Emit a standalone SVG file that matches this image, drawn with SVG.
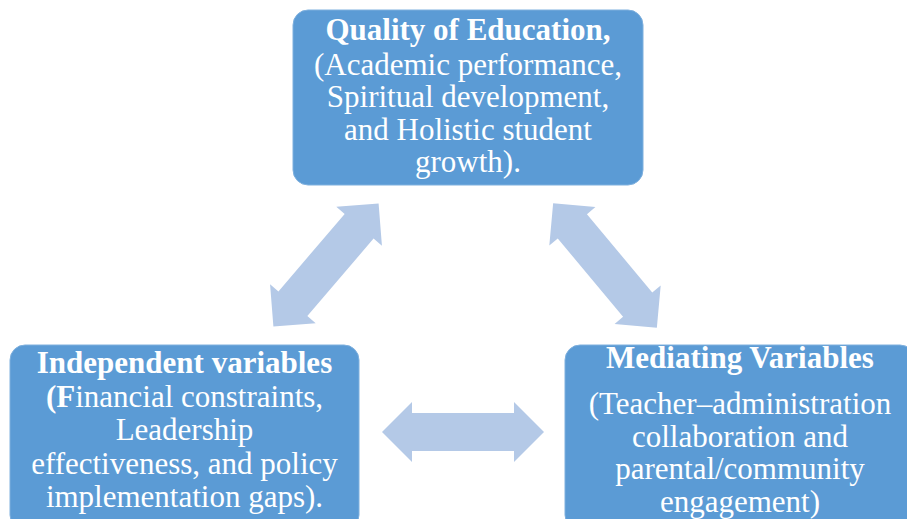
<svg xmlns="http://www.w3.org/2000/svg" width="907" height="519" viewBox="0 0 907 519">
  <defs>
    <style>
      .box { fill: #5B9BD5; stroke: #7FB0DE; stroke-width: 1; }
      .arrow { fill: #B4C9E7; }
      .t { font-family: "Liberation Serif", "Times New Roman", serif; font-size: 31px; fill: #ffffff; text-anchor: middle; }
      .b { font-weight: bold; }
    </style>
    <!-- double-headed block arrow, 162 long, centred on the origin along x -->
    <path id="dbl" d="M -81,0 L -51,-30 L -51,-19 L 51,-19 L 51,-30 L 81,0 L 51,30 L 51,19 L -51,19 L -51,30 Z"/>
  </defs>

  <rect width="907" height="519" fill="#ffffff"/>

  <g id="connectors">
    <use href="#dbl" class="arrow" transform="translate(326,265) rotate(-49.5)"/>
    <use href="#dbl" class="arrow" transform="translate(605,265.5) rotate(50.2)"/>
    <use href="#dbl" class="arrow" transform="translate(463,432)"/>
  </g>

  <g id="quality">
    <rect class="box" x="293" y="10" width="350" height="175" rx="15"/>
    <text class="t b" x="468" y="40">Quality of Education,</text>
    <text class="t" x="468" y="75">(Academic performance,</text>
    <text class="t" x="468" y="107">Spiritual development,</text>
    <text class="t" x="468" y="140">and Holistic student</text>
    <text class="t" x="468" y="172">growth).</text>
  </g>

  <g id="independent">
    <rect class="box" x="10" y="345" width="349" height="185" rx="15"/>
    <text class="t b" x="184.5" y="373">Independent variables</text>
    <text class="t" x="184.5" y="407"><tspan class="b">(F</tspan>inancial constraints,</text>
    <text class="t" x="184.5" y="440">Leadership</text>
    <text class="t" x="184.5" y="474">effectiveness, and policy</text>
    <text class="t" x="184.5" y="507">implementation gaps).</text>
  </g>

  <g id="mediating">
    <rect class="box" x="565" y="345" width="350" height="185" rx="15"/>
    <text class="t b" x="740" y="368">Mediating Variables</text>
    <text class="t" x="740" y="414">(Teacher–administration</text>
    <text class="t" x="740" y="447">collaboration and</text>
    <text class="t" x="740" y="479">parental/community</text>
    <text class="t" x="740" y="512">engagement)</text>
  </g>
</svg>
